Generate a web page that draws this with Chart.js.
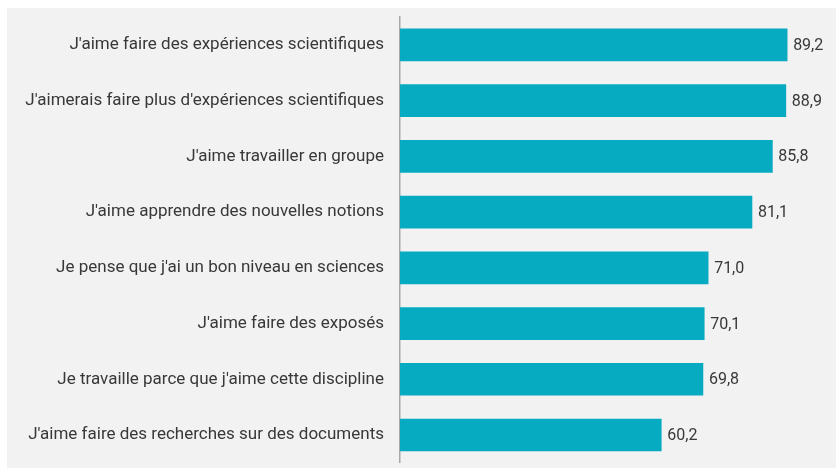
<!DOCTYPE html>
<html lang="fr">
<head>
<meta charset="utf-8">
<script src="https://cdn.jsdelivr.net/npm/chart.js@4"></script>
<style>
  html, body { margin: 0; padding: 0; background: #fff; }
  #panel {
    position: absolute; left: 7px; top: 8px;
    width: 829px; height: 460px;
    background: #f2f2f2;
  }
  #chart { display: block; }
</style>
</head>
<body>
<div id="panel"><canvas id="chart" width="829" height="460"></canvas></div>
<script>
const categories = [
  "J'aime faire des expériences scientifiques",
  "J'aimerais faire plus d'expériences scientifiques",
  "J'aime travailler en groupe",
  "J'aime apprendre des nouvelles notions",
  "Je pense que j'ai un bon niveau en sciences",
  "J'aime faire des exposés",
  "Je travaille parce que j'aime cette discipline",
  "J'aime faire des recherches sur des documents"
];
const values = [89.2, 88.9, 85.8, 81.1, 71.0, 70.1, 69.8, 60.2];

// value labels at the end of each bar, French decimal comma
const valueLabels = {
  id: 'valueLabels',
  afterDatasetsDraw(chart) {
    const ctx = chart.ctx;
    const meta = chart.getDatasetMeta(0);
    ctx.save();
    ctx.font = '16px Roboto';
    ctx.fillStyle = '#383838';
    ctx.textAlign = 'left';
    ctx.textBaseline = 'middle';
    meta.data.forEach((bar, i) => {
      ctx.fillText(values[i].toFixed(1).replace('.', ','), bar.x + 6, bar.y + 1);
    });
    ctx.restore();
  }
};

new Chart(document.getElementById('chart'), {
  type: 'bar',
  data: {
    labels: categories,
    datasets: [{
      data: values,
      backgroundColor: '#06abc1',
      borderWidth: 0,
      barThickness: 32
    }]
  },
  options: {
    indexAxis: 'y',
    responsive: false,
    animation: false,
    layout: { padding: { top: 9, bottom: 5, left: 0, right: 2 } },
    scales: {
      x: {
        display: false,
        min: 0,
        max: 100
      },
      y: {
        afterFit(scale) { scale.width = 393; },
        grid: { display: true, drawOnChartArea: false, drawTicks: true, tickLength: 16, tickColor: 'transparent' },
        border: { display: true, color: '#a8a8a8', width: 1.5 },
        ticks: {
          padding: 0,
          color: '#383838',
          font: { family: 'Roboto', size: 17, lineHeight: 0.6 }
        }
      }
    },
    plugins: {
      legend: { display: false },
      tooltip: { enabled: false }
    }
  },
  plugins: [valueLabels]
});
</script>
</body>
</html>
